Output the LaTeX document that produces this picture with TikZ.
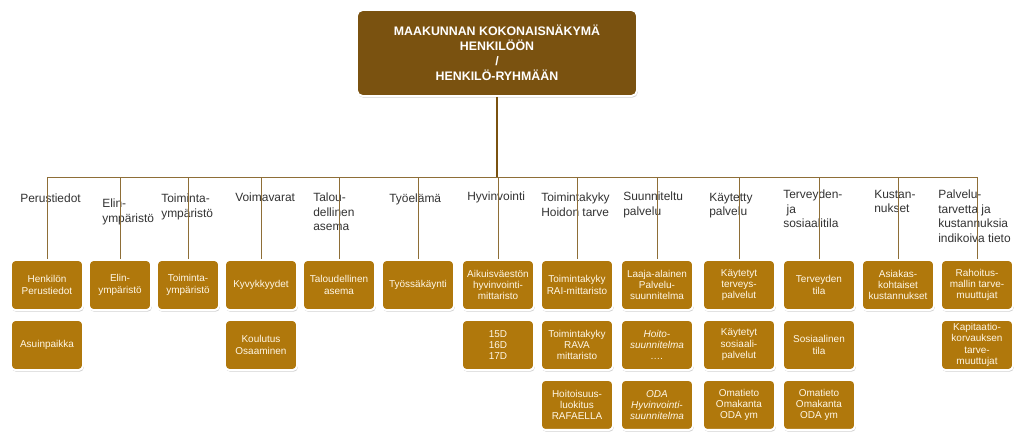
\documentclass[tikz,border=0pt]{standalone}
\usepackage{fontspec}
\setmainfont{Liberation Sans}
\usetikzlibrary{positioning, shadows}

\definecolor{topbrown}{RGB}{122,82,16}
\definecolor{boxgold}{RGB}{176,120,12}
\definecolor{boxtext}{RGB}{255,247,230}
\definecolor{linkbrown}{RGB}{142,110,55}
\definecolor{labelgrey}{RGB}{50,50,50}

\begin{document}
\begin{tikzpicture}[x=0.025cm, y=-0.025cm,
  node distance=0.2cm,
  head/.style={rectangle, rounded corners=4pt, fill=topbrown, draw=white,
    line width=1.4pt, minimum width=7cm, minimum height=2.15cm,
    text=white, align=center, font=\bfseries\fontsize{8.8}{10.7}\selectfont,
    drop shadow={shadow xshift=0.6pt, shadow yshift=-1.2pt, opacity=0.35}},
  item/.style={rectangle, rounded corners=3pt, fill=boxgold, draw=white,
    line width=1.4pt, minimum width=1.8cm, minimum height=1.25cm,
    inner sep=1pt, text=boxtext, align=center,
    font=\fontsize{7.1}{8.1}\selectfont,
    drop shadow={shadow xshift=0.6pt, shadow yshift=-1.2pt, opacity=0.35}},
  narrow/.style={item, minimum width=1.55cm},
  cat/.style={anchor=north west, inner sep=0pt, align=left, text=labelgrey,
    font=\fontsize{8.5}{10.3}\selectfont},
  link/.style={draw=linkbrown, line width=0.6pt}
]
\useasboundingbox (0,0) rectangle (1024,440);

\node[head] (head) at (497,53) {MAAKUNNAN KOKONAISNÄKYMÄ\\HENKILÖÖN\\/\\HENKILÖ-RYHMÄÄN};

% category labels
\node[cat] (lperus) at (20,194) {Perustiedot};
\node[cat] (lelin) at (102,199) {Elin-\\ympäristö};
\node[cat] (ltoim) at (161,194) {Toiminta-\\ympäristö};
\node[cat] (lvoima) at (235,193) {Voimavarat};
\node[cat] (ltalous) at (313,193) {Talou-\\dellinen\\asema};
\node[cat] (ltyo) at (389,194) {Työelämä};
\node[cat] (lhyvin) at (467,192) {Hyvinvointi};
\node[cat] (lkyky) at (541,193) {Toimintakyky\\Hoidon tarve};
\node[cat] (lsuun) at (623,192) {Suunniteltu\\palvelu};
\node[cat] (lkayt) at (709,193) {Käytetty\\palvelu};
\node[cat] (lterv) at (783,190) {Terveyden-\\\ ja\\sosiaalitila};
\node[cat] (lkust) at (874,190) {Kustan-\\nukset};
\node[cat] (ltieto) at (938,190) {Palvelu-\\tarvetta ja\\kustannuksia\\indikoiva tieto};

% first row
\node[item] (henkilo) at (47,285) {Henkilön\\Perustiedot};
\node[narrow] (elin) at (120,285) {Elin-\\ympäristö};
\node[narrow] (toim) at (188,285) {Toiminta-\\ympäristö};
\node[item] (kyvyt) at (261,285) {Kyvykkyydet};
\node[item] (talous) at (339,285) {Taloudellinen\\asema};
\node[item] (tyo) at (418,285) {Työssäkäynti};
\node[item] (aikuis) at (498,285) {Aikuisväestön\\hyvinvointi-\\mittaristo};
\node[item] (rai) at (577,285) {Toimintakyky\\RAI-mittaristo};
\node[item] (laaja) at (657,285) {Laaja-alainen\\Palvelu-\\suunnitelma};
\node[item] (terpal) at (739,285) {Käytetyt\\terveys-\\palvelut};
\node[item] (tertila) at (819,285) {Terveyden\\tila};
\node[item] (asiakas) at (898,285) {Asiakas-\\kohtaiset\\kustannukset};
\node[item] (rahoitus) at (977,285) {Rahoitus-\\mallin tarve-\\muuttujat};

% second and third rows
\node[item, below=of henkilo] (asuin) {Asuinpaikka};
\node[item, below=of kyvyt] (koulutus) {Koulutus\\Osaaminen};
\node[item, below=of aikuis] (mitta) {15D\\16D\\17D};
\node[item, below=of rai] (rava) {Toimintakyky\\RAVA\\mittaristo};
\node[item, below=of rava] (rafaella) {Hoitoisuus-\\luokitus\\RAFAELLA};
\node[item, below=of laaja, font=\itshape\fontsize{7.1}{8.1}\selectfont] (hoito) {Hoito-\\suunnitelma\\….};
\node[item, below=of hoito, font=\itshape\fontsize{7.1}{8.1}\selectfont] (oda) {ODA\\Hyvinvointi-\\suunnitelma};
\node[item, below=of terpal] (sospal) {Käytetyt\\sosiaali-\\palvelut};
\node[item, below=of sospal] (omat1) {Omatieto\\Omakanta\\ODA ym};
\node[item, below=of tertila] (sostila) {Sosiaalinen\\tila};
\node[item, below=of sostila] (omat2) {Omatieto\\Omakanta\\ODA ym};
\node[item, below=of rahoitus] (kapit) {Kapitaatio-\\korvauksen\\tarve-\\muuttujat};

% connectors
\coordinate (bus) at (497,177);
\draw[link, draw=topbrown, line width=0.8pt] (head.south) -- (bus);
\foreach \n in {henkilo, elin, toim, kyvyt, talous, tyo, aikuis, rai, laaja, terpal, tertila, asiakas, rahoitus}
  \draw[link] (\n.north) |- (bus);
\end{tikzpicture}
\end{document}
